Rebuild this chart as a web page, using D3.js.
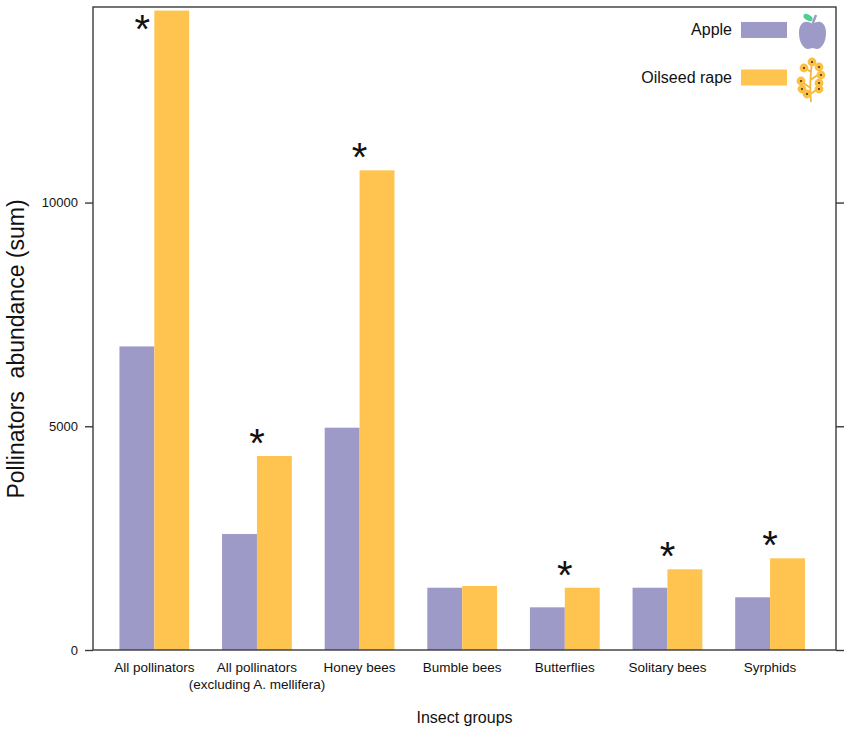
<!DOCTYPE html>
<html>
<head>
<meta charset="utf-8">
<script src="https://cdn.jsdelivr.net/npm/d3@7"></script>
<style>
  body { margin: 0; background: #fff; }
  text { font-family: "Liberation Sans", Arial, sans-serif; fill: #111; }
</style>
</head>
<body>
<div id="chart"></div>
<script>
const categories = ["All pollinators", "All pollinators\n(excluding A. mellifera)", "Honey bees",
  "Bumble bees", "Butterflies", "Solitary bees", "Syrphids"]
const series = ["Apple", "Oilseed rape"]
const appleValues = [6785, 2592, 4968, 1392, 954, 1392, 1178]
const rapeValues = [14290, 4335, 10720, 1430, 1392, 1803, 2049]
const significant = [true, true, true, false, true, true, true]
const yTicks = [0, 5000, 10000]
const colors = ["#9e9ac8", "#fec44f"]

const width = 851, height = 733
const margin = { top: 7, right: 15, bottom: 83, left: 93 }
const w = width - margin.left - margin.right
const h = height - margin.top - margin.bottom
const axisColor = "#3a3a3a"

const rows = categories.map((c, i) => ({ cat: c, vals: [appleValues[i], rapeValues[i]], sig: significant[i] }))

const svg = d3.select("#chart").append("svg")
  .attr("width", width)
  .attr("height", height)

const g = svg.append("g").attr("transform", `translate(${margin.left},${margin.top})`)

const x0 = d3.scaleBand().domain(categories).range([0, w])
  .paddingInner(0.32).paddingOuter(0.28).align(0.46)
const x1 = d3.scaleBand().domain(series).range([0, x0.bandwidth()])
const y = d3.scaleLinear().domain([0, 14370]).range([h, 0])

// bars
const groups = g.selectAll(".grp").data(rows).enter().append("g")
  .attr("class", "grp")
  .attr("transform", d => `translate(${x0(d.cat)},0)`)

groups.selectAll("rect")
  .data(d => d.vals.map((v, j) => ({ s: series[j], v: v, j: j })))
  .enter().append("rect")
  .attr("x", d => x1(d.s))
  .attr("y", d => y(d.v))
  .attr("width", x1.bandwidth())
  .attr("height", d => h - y(d.v))
  .attr("fill", d => colors[d.j])

// significance stars
const starSize = 40
groups.filter(d => d.sig).append("text")
  .attr("text-anchor", "middle")
  .attr("font-size", starSize)
  .attr("x", d => {
    const top = y(d3.max(d.vals)) - 22
    return top < 14 ? x1(series[1]) - 12 : x0.bandwidth() / 2
  })
  .attr("y", d => Math.max(y(d3.max(d.vals)) - 22, 13) + starSize * 0.57)
  .text("*")

// frame
g.append("rect")
  .attr("width", w).attr("height", h)
  .attr("fill", "none")
  .attr("stroke", axisColor)
  .attr("stroke-width", 1.4)

// axes
const yAxis = g.append("g")
  .call(d3.axisLeft(y).tickValues(yTicks).tickSize(8).tickPadding(7).tickFormat(d3.format("d")))
yAxis.select(".domain").remove()
yAxis.selectAll("line").attr("stroke", axisColor).attr("stroke-width", 1.4)
yAxis.selectAll("text").attr("font-size", 13).attr("font-family", "Liberation Sans, Arial, sans-serif").attr("fill", "#111")

const yAxisR = g.append("g").attr("transform", `translate(${w},0)`)
  .call(d3.axisRight(y).tickValues(yTicks).tickSize(8).tickFormat(""))
yAxisR.select(".domain").remove()
yAxisR.selectAll("line").attr("stroke", axisColor).attr("stroke-width", 1.4)

// category labels
const catLabels = g.selectAll(".cat").data(categories).enter().append("text")
  .attr("class", "cat")
  .attr("text-anchor", "middle")
  .attr("font-size", 13.5)
  .attr("transform", d => `translate(${x0(d) + x0.bandwidth() / 2},${h + 22})`)
catLabels.selectAll("tspan")
  .data(d => d.split("\n"))
  .enter().append("tspan")
  .attr("x", 0)
  .attr("dy", (d, i) => i === 0 ? 0 : 16.5)
  .text(d => d)

// axis titles
g.append("text")
  .attr("text-anchor", "middle")
  .attr("font-size", 16)
  .attr("x", w / 2)
  .attr("y", h + 73)
  .text("Insect groups")

svg.append("text")
  .attr("text-anchor", "middle")
  .attr("font-size", 23)
  .attr("transform", `translate(24,349) rotate(-90)`)
  .text("Pollinators\u00a0 abundance (sum)")

// legend
const legend = g.append("g").attr("transform", `translate(${w - 95},0)`)
const legendRows = legend.selectAll(".lg").data(series).enter().append("g")
  .attr("class", "lg")
  .attr("transform", (d, i) => `translate(0,${15 + i * 47.5})`)
legendRows.append("rect")
  .attr("width", 46).attr("height", 16)
  .attr("fill", (d, i) => colors[i])
legendRows.append("text")
  .attr("text-anchor", "end")
  .attr("x", -9).attr("y", 13)
  .attr("font-size", 16)
  .text(d => d)

// apple icon
const apple = legend.append("g").attr("transform", "translate(58,6)")
apple.append("path")
  .attr("d", "M13.5,11 C6,6 0,10 0,20 C0,30 5,36 9,36 C11,36 12,35 13.5,35 C15,35 16,36 18,36 C22,36 27,30 27,20 C27,10 21,6 13.5,11 Z")
  .attr("fill", colors[0])
apple.append("path")
  .attr("d", "M13.5,11 L17,2")
  .attr("stroke", colors[0]).attr("stroke-width", 2.4).attr("fill", "none")
apple.append("ellipse")
  .attr("cx", 9).attr("cy", 4.5).attr("rx", 5).attr("ry", 2.8)
  .attr("transform", "rotate(30,9,4.5)")
  .attr("fill", "#4fd08f")

// oilseed rape icon
const flower = legend.append("g").attr("transform", "translate(54,51)")
flower.append("path")
  .attr("d", "M16,44 C15,34 15,20 17,4 M15.5,30 L7,24 M15.5,22 L24,16 M16,14 L8,9 M15.5,36 L24,30")
  .attr("stroke", "#f7b53b").attr("stroke-width", 1.8).attr("fill", "none")
const blossoms = [[17, 4], [24, 9], [9, 10], [26, 17], [6, 23], [24, 25], [7, 31], [24, 31], [12, 36]]
flower.selectAll(".bl").data(blossoms).enter().append("circle")
  .attr("cx", d => d[0]).attr("cy", d => d[1]).attr("r", 4.4)
  .attr("fill", "#fbbf44")
flower.selectAll(".dot").data(blossoms).enter().append("circle")
  .attr("cx", d => d[0]).attr("cy", d => d[1]).attr("r", 1)
  .attr("fill", "#3a2a10")
</script>
</body>
</html>
